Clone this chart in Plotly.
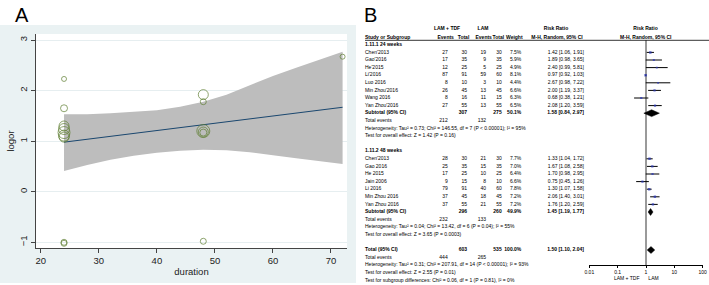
import plotly.graph_objects as go

W, H = 709, 285
FONT = "Liberation Sans, Arial, sans-serif"

# ---------------- Panel A data (meta-regression) ----------------
duration = [24, 24, 24, 24, 24, 24, 24, 24, 24, 48, 48, 48, 48, 48, 48, 72]
logor = [2.23, 1.65, 1.30, 1.24, 1.17, 1.11, 1.08, -1.00, -1.02,
         1.92, 1.78, 1.20, 1.18, 1.17, -0.98, 2.67]
study_weight = [5, 7, 10, 11, 12, 11, 10, 6, 6, 10, 6, 13, 10, 7, 6, 5]

fit_x = [24, 72]
fit_y = [0.98, 1.67]

band_x = [24, 28, 32, 36, 40, 44, 48, 52, 56, 60, 64, 68, 72]
band_hi = [1.53, 1.53, 1.55, 1.58, 1.61, 1.68, 1.78, 1.92, 2.10, 2.29, 2.45, 2.61, 2.77]
band_lo = [0.41, 0.53, 0.63, 0.71, 0.77, 0.81, 0.83, 0.82, 0.78, 0.72, 0.66, 0.60, 0.55]

a_xticks = [20, 30, 40, 50, 60, 70]
a_yticks = [-1, 0, 1, 2, 3]

# ---------------- Panel B data (forest plot) ----------------
g1_title = "1.11.1 24 weeks"
g1_study = ["Chen'2013", "Gao'2016", "He'2015", "Li'2016", "Luo 2016",
            "Min Zhou'2016", "Wang 2016", "Yan Zhou'2016"]
g1_e1 = [27, 17, 12, 87, 8, 26, 8, 27]
g1_n1 = [30, 35, 25, 91, 10, 45, 16, 55]
g1_e2 = [19, 9, 5, 59, 3, 13, 11, 13]
g1_n2 = [30, 35, 25, 60, 10, 45, 15, 55]
g1_w = [7.5, 5.9, 4.9, 8.1, 4.4, 6.6, 6.3, 6.5]
g1_rr = [1.42, 1.89, 2.40, 0.97, 2.67, 2.00, 0.68, 2.08]
g1_lo = [1.06, 0.98, 0.99, 0.92, 0.98, 1.19, 0.38, 1.20]
g1_hi = [1.91, 3.65, 5.81, 1.03, 7.22, 3.37, 1.21, 3.59]
g1_sub = dict(n1=307, n2=275, w="50.1%", rr=1.58, lo=0.84, hi=2.97, e1=212, e2=132)
g1_het = "Heterogeneity: Tau² = 0.73; Chi² = 146.55, df = 7 (P < 0.00001); I² = 95%"
g1_test = "Test for overall effect: Z = 1.42 (P = 0.16)"

g2_title = "1.11.2 48 weeks"
g2_study = ["Chen'2013", "Gao 2016", "He 2015", "Jain 2006", "Li 2016",
            "Min Zhou 2016", "Yan Zhou 2016"]
g2_e1 = [28, 25, 17, 9, 79, 37, 37]
g2_n1 = [30, 35, 25, 15, 91, 45, 55]
g2_e2 = [21, 15, 10, 8, 40, 18, 21]
g2_n2 = [30, 35, 25, 10, 60, 45, 55]
g2_w = [7.7, 7.0, 6.4, 6.6, 7.8, 7.2, 7.2]
g2_rr = [1.33, 1.67, 1.70, 0.75, 1.30, 2.06, 1.76]
g2_lo = [1.04, 1.08, 0.98, 0.45, 1.07, 1.40, 1.20]
g2_hi = [1.72, 2.58, 2.95, 1.26, 1.58, 3.01, 2.59]
g2_sub = dict(n1=296, n2=260, w="49.9%", rr=1.45, lo=1.19, hi=1.77, e1=232, e2=133)
g2_het = "Heterogeneity: Tau² = 0.04; Chi² = 13.42, df = 6 (P = 0.04); I² = 55%"
g2_test = "Test for overall effect: Z = 3.65 (P = 0.0003)"

tot = dict(n1=603, n2=535, w="100.0%", rr=1.50, lo=1.10, hi=2.04, e1=444, e2=265)
tot_het = "Heterogeneity: Tau² = 0.31; Chi² = 207.91, df = 14 (P < 0.00001); I² = 93%"
tot_test = "Test for overall effect: Z = 2.55 (P = 0.01)"
sub_test = "Test for subgroup differences: Chi² = 0.06, df = 1 (P = 0.81), I² = 0%"

rr_ticks = [0.01, 0.1, 1, 10, 100]
rr_ticktext = ["0.01", "0.1", "1", "10", "100"]

# ---------------- layout helpers ----------------
ROW0, ROWH = 44.8, 7.6           # pixel y of row 0 and row spacing


def k_of(ypx):
    return (ypx - ROW0) / ROWH


def py(ypx):
    return 1 - ypx / H


def px(xpx):
    return xpx / W


FS = 5.0
fig = go.Figure()

# ---- Panel A traces ----
fig.add_trace(go.Scatter(
    x=band_x + band_x[::-1], y=band_hi + band_lo[::-1], fill="toself",
    fillcolor="#bdbdbd", line=dict(width=0), mode="lines",
    hoverinfo="skip", showlegend=False, xaxis="x", yaxis="y"))
fig.add_trace(go.Scatter(
    x=fit_x, y=fit_y, mode="lines", line=dict(color="#1a476f", width=1),
    showlegend=False, xaxis="x", yaxis="y"))
fig.add_trace(go.Scatter(
    x=duration, y=logor, mode="markers",
    marker=dict(symbol="circle-open", size=study_weight, color="#5f7f33",
                line=dict(width=1, color="#5f7f33")),
    showlegend=False, xaxis="x", yaxis="y"))

# ---- Panel B rows ----
rows = []  # (k, study, e1, n1, e2, n2, w, ci, bold)
rows.append((0, g1_title, "", "", "", "", "", "", True))
for i in range(len(g1_study)):
    rows.append((1 + i, g1_study[i], str(g1_e1[i]), str(g1_n1[i]), str(g1_e2[i]),
                 str(g1_n2[i]), f"{g1_w[i]:.1f}%",
                 f"{g1_rr[i]:.2f} [{g1_lo[i]:.2f}, {g1_hi[i]:.2f}]", False))
k_sub1 = 1 + len(g1_study)
rows.append((k_sub1, "Subtotal (95% CI)", "", str(g1_sub["n1"]), "", str(g1_sub["n2"]),
             g1_sub["w"], f"{g1_sub['rr']:.2f} [{g1_sub['lo']:.2f}, {g1_sub['hi']:.2f}]", True))
rows.append((k_sub1 + 1, "Total events", str(g1_sub["e1"]), "", str(g1_sub["e2"]), "", "", "", False))
rows.append((k_sub1 + 2, g1_het, "", "", "", "", "", "", False))
rows.append((k_sub1 + 3, g1_test, "", "", "", "", "", "", False))

g2_k0 = k_sub1 + 5
rows.append((g2_k0, g2_title, "", "", "", "", "", "", True))
for i in range(len(g2_study)):
    rows.append((g2_k0 + 1 + i, g2_study[i], str(g2_e1[i]), str(g2_n1[i]), str(g2_e2[i]),
                 str(g2_n2[i]), f"{g2_w[i]:.1f}%",
                 f"{g2_rr[i]:.2f} [{g2_lo[i]:.2f}, {g2_hi[i]:.2f}]", False))
k_sub2 = g2_k0 + 1 + len(g2_study)
rows.append((k_sub2, "Subtotal (95% CI)", "", str(g2_sub["n1"]), "", str(g2_sub["n2"]),
             g2_sub["w"], f"{g2_sub['rr']:.2f} [{g2_sub['lo']:.2f}, {g2_sub['hi']:.2f}]", True))
rows.append((k_sub2 + 1, "Total events", str(g2_sub["e1"]), "", str(g2_sub["e2"]), "", "", "", False))
rows.append((k_sub2 + 2, g2_het, "", "", "", "", "", "", False))
rows.append((k_sub2 + 3, g2_test, "", "", "", "", "", "", False))

k_tot = k_sub2 + 5
rows.append((k_tot, "Total (95% CI)", "", str(tot["n1"]), "", str(tot["n2"]),
             tot["w"], f"{tot['rr']:.2f} [{tot['lo']:.2f}, {tot['hi']:.2f}]", True))
rows.append((k_tot + 1, "Total events", str(tot["e1"]), "", str(tot["e2"]), "", "", "", False))
rows.append((k_tot + 2, tot_het, "", "", "", "", "", "", False))
rows.append((k_tot + 3, tot_test, "", "", "", "", "", "", False))
rows.append((k_tot + 4, sub_test, "", "", "", "", "", "", False))

COLS = [(365, 1, "middle right"), (447.7, 2, "middle left"), (467.0, 3, "middle left"),
        (486.0, 4, "middle left"), (501.7, 5, "middle left"), (521.3, 6, "middle left"),
        (584.0, 7, "middle left")]


def text_trace(xpx, ks, texts, pos, size=FS):
    return go.Scatter(x=[xpx] * len(ks), y=ks, text=texts, mode="text",
                      textposition=pos, cliponaxis=False,
                      textfont=dict(size=size, family=FONT, color="black"),
                      hoverinfo="skip", showlegend=False, xaxis="x3", yaxis="y3")


for xpx, ci, pos in COLS:
    ks, tx = [], []
    for r in rows:
        if r[ci] != "":
            ks.append(r[0])
            tx.append(f"<b>{r[ci]}</b>" if r[8] else r[ci])
    fig.add_trace(text_trace(xpx, ks, tx, pos))

# headers
k_h1 = k_of(28.7)
k_h2 = k_of(37.8)
hdr = [(447, k_h1, "<b>LAM + TDF</b>"), (483, k_h1, "<b>LAM</b>"),
       (556, k_h1, "<b>Risk Ratio</b>"), (645.5, k_h1, "<b>Risk Ratio</b>"),
       (445.7, k_h2, "<b>Events</b>"), (463.5, k_h2, "<b>Total</b>"),
       (483.7, k_h2, "<b>Events</b>"), (498.3, k_h2, "<b>Total</b>"),
       (514.3, k_h2, "<b>Weight</b>"), (557, k_h2, "<b>M-H, Random, 95% CI</b>"),
       (645.8, k_h2, "<b>M-H, Random, 95% CI</b>"),
       (626.7, k_of(279.0), "LAM + TDF"), (653.5, k_of(279.0), "LAM")]
for xh, kh, th in hdr:
    fig.add_trace(text_trace(xh, [kh], [th], "middle center"))
fig.add_trace(text_trace(365, [k_h2], ["<b>Study or Subgroup</b>"], "middle right"))

# forest CI lines and squares
ci_x, ci_y = [], []
for ks0, lo, hi in [(1, g1_lo, g1_hi), (g2_k0 + 1, g2_lo, g2_hi)]:
    for i in range(len(lo)):
        ci_x += [lo[i], hi[i], None]
        ci_y += [ks0 + i, ks0 + i, None]
fig.add_trace(go.Scatter(x=ci_x, y=ci_y, mode="lines", line=dict(color="black", width=1),
                         hoverinfo="skip", showlegend=False, xaxis="x2", yaxis="y2"))
sq_x = g1_rr + g2_rr
sq_y = [1 + i for i in range(len(g1_rr))] + [g2_k0 + 1 + i for i in range(len(g2_rr))]
sq_w = g1_w + g2_w
fig.add_trace(go.Scatter(x=sq_x, y=sq_y, mode="markers",
                         marker=dict(symbol="square", color="#2a36b8",
                                     size=[0.8 + 0.22 * w for w in sq_w], line=dict(width=0)),
                         showlegend=False, xaxis="x2", yaxis="y2"))

DH = 0.45
for kd, s in [(k_sub1, g1_sub), (k_sub2, g2_sub), (k_tot, tot)]:
    fig.add_trace(go.Scatter(
        x=[s["lo"], s["rr"], s["hi"], s["rr"], s["lo"]],
        y=[kd, kd - DH, kd, kd + DH, kd], fill="toself", fillcolor="black",
        mode="lines", line=dict(color="black", width=0.5),
        hoverinfo="skip", showlegend=False, xaxis="x2", yaxis="y2"))

# ---------------- layout ----------------
A_L, A_R, A_T, A_B = 36, 347, 34, 248
F_L, F_R, F_T, F_B = 589.3, 702.7, 40.3, 265

fig.update_layout(
    template="none",
    width=W, height=H, margin=dict(l=0, r=0, t=0, b=0, pad=0),
    paper_bgcolor="white", plot_bgcolor="rgba(0,0,0,0)",
    font=dict(family=FONT, color="black"),
    xaxis=dict(domain=[px(A_L), px(A_R)], range=[19.17, 72.76], tickvals=a_xticks,
               ticks="outside", ticklen=4, tickcolor="#444", showline=True,
               linecolor="#444", linewidth=1, showgrid=False, zeroline=False,
               tickfont=dict(size=9.5, color="#222"), automargin=False,
               title=dict(text="duration", font=dict(size=9.5, color="#222"), standoff=2),
               anchor="y"),
    yaxis=dict(domain=[py(A_B), py(A_T)], range=[-1.113, 3.119], tickvals=a_yticks,
               tickangle=-90, ticks="outside", ticklen=4, tickcolor="#444",
               showline=True, linecolor="#444", linewidth=1, showgrid=True,
               gridcolor="#e6eef0", gridwidth=1, zeroline=False, automargin=False,
               tickfont=dict(size=9.5, color="#222"),
               title=dict(text="logor", font=dict(size=9.5, color="#222"), standoff=1),
               anchor="x"),
    xaxis2=dict(domain=[px(F_L), px(F_R)], type="log", range=[-2, 2],
                tickvals=rr_ticks, ticktext=rr_ticktext, ticks="outside", ticklen=2,
                tickcolor="black", showline=True, linecolor="black", linewidth=1,
                showgrid=False, zeroline=False, automargin=False,
                tickfont=dict(size=FS, color="black"), anchor="y2"),
    yaxis2=dict(domain=[py(F_B), py(F_T)], range=[k_of(F_B), k_of(F_T)],
                visible=False, automargin=False, anchor="x2"),
    xaxis3=dict(domain=[0, 1], range=[0, W], visible=False, automargin=False, anchor="y3"),
    yaxis3=dict(domain=[0, 1], range=[k_of(H), k_of(0)], visible=False, automargin=False,
                anchor="x3"),
    shapes=[
        dict(type="rect", xref="paper", yref="paper", x0=0, x1=px(356), y0=py(283), y1=py(25),
             fillcolor="#eaf2f3", line=dict(width=0), layer="below"),
        dict(type="rect", xref="paper", yref="paper", x0=px(A_L), x1=px(A_R), y0=py(A_B),
             y1=py(A_T), fillcolor="white", line=dict(width=0), layer="below"),
        dict(type="line", xref="paper", yref="paper", x0=px(365), x1=1, y0=py(40.3),
             y1=py(40.3), line=dict(color="black", width=0.8)),
        dict(type="line", xref="x2", yref="y2 domain", x0=1, x1=1, y0=0, y1=1,
             line=dict(color="#9a9a9a", width=2), layer="below"),
    ],
    annotations=[
        dict(text="A", x=px(13), y=py(2), xref="paper", yref="paper", xanchor="left",
             yanchor="top", showarrow=False, font=dict(size=20, family=FONT)),
        dict(text="B", x=px(362), y=py(2), xref="paper", yref="paper", xanchor="left",
             yanchor="top", showarrow=False, font=dict(size=20, family=FONT)),
    ],
)

fig.write_html("out.html", config={"displayModeBar": False, "responsive": False},
               post_script="document.body.style.margin='0';document.body.style.padding='0';")
